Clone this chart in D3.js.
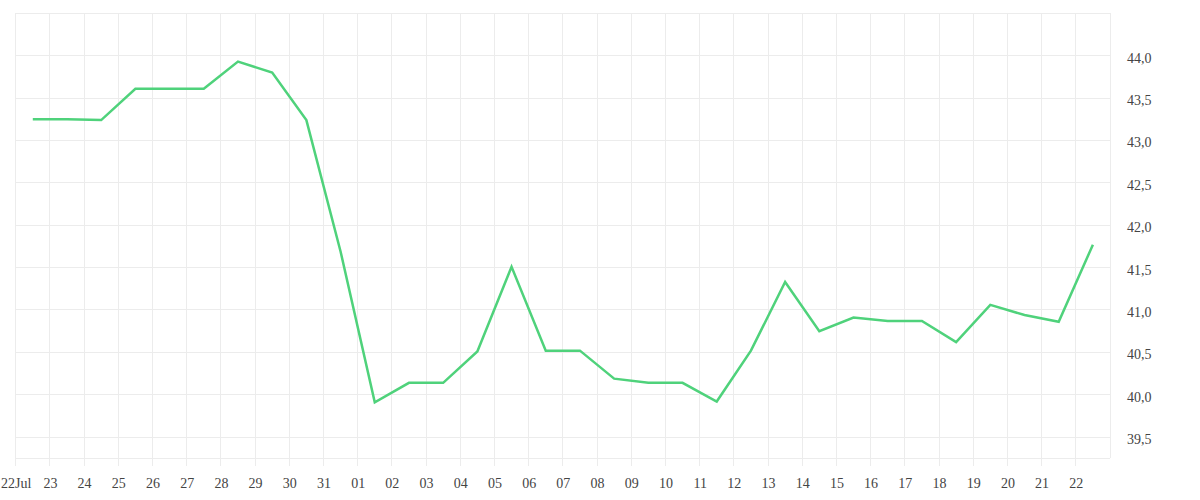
<!DOCTYPE html>
<html><head><meta charset="utf-8">
<script src="https://cdn.jsdelivr.net/npm/d3@7"></script>
<style>body{margin:0;background:#fff;}svg{display:block;}</style>
</head><body>
<svg id="c" width="1200" height="500"></svg>
<script>
const startDate = "2023-07-22";
const values = [43.25,43.25,43.24,43.61,43.61,43.61,43.93,43.80,43.24,41.69,39.91,40.14,40.14,40.51,41.51,40.52,40.52,40.19,40.14,40.14,39.92,40.52,41.33,40.75,40.91,40.87,40.87,40.62,41.06,40.94,40.86,41.77];
const yTicks = [39.5,40.0,40.5,41.0,41.5,42.0,42.5,43.0,43.5,44.0];
const yDomain = [39.25, 44.5];

const parse = d3.timeParse("%Y-%m-%d");
const d0 = parse(startDate);
const data = values.map((v,i)=>({date:d3.timeHour.offset(d3.timeDay.offset(d0,i),12), v}));

const svg = d3.select("#c");
const L=15.7, R=1110, T=13.3, B=458.3;
const x = d3.scaleTime().domain([d0, d3.timeDay.offset(d0, values.length)]).range([L,R]);
const y = d3.scaleLinear().domain(yDomain).range([B,T]);
const grid = "#ececec";

const days = d3.timeDay.range(d0, d3.timeDay.offset(d0, values.length));
svg.append("g").selectAll("line").data(days).join("line")
  .attr("x1",d=>x(d)).attr("x2",d=>x(d)).attr("y1",T).attr("y2",B+8)
  .attr("stroke",grid).attr("stroke-width",1).attr("shape-rendering","crispEdges");
svg.append("line").attr("x1",R).attr("x2",R).attr("y1",T).attr("y2",B)
  .attr("stroke",grid).attr("shape-rendering","crispEdges");
const hLines = yTicks.concat([44.5, yDomain[0]]);
svg.append("g").selectAll("line").data(hLines).join("line")
  .attr("x1",L).attr("x2",R).attr("y1",d=>y(d)).attr("y2",d=>y(d))
  .attr("stroke",grid).attr("stroke-width",1).attr("shape-rendering","crispEdges");

const fmtNum = v => d3.format(".1f")(v).replace(".", ",");
const yAxis = d3.axisRight(y).tickValues(yTicks).tickFormat(fmtNum).tickSize(0).tickPadding(0);
const ga = svg.append("g").attr("transform",`translate(${1127},2)`).call(yAxis);
ga.select(".domain").remove();
ga.selectAll("text").attr("font-family","Liberation Serif").attr("font-size",14).attr("fill","#444");

const fmtDay = d => (d.getTime()===d0.getTime()) ? d3.timeFormat("%d%b")(d) : d3.timeFormat("%d")(d);
const xAxis = d3.axisBottom(x).tickValues(days).tickFormat(fmtDay).tickSize(0).tickPadding(0);
const gx = svg.append("g").attr("transform",`translate(0,${478})`).call(xAxis);
gx.select(".domain").remove();
gx.selectAll("text").attr("font-family","Liberation Serif").attr("font-size",14).attr("fill","#444");

const line = d3.line().x(d=>x(d.date)).y(d=>y(d.v));
svg.append("path").datum(data).attr("d",line)
  .attr("fill","none").attr("stroke","#4fd27b").attr("stroke-width",2.5).attr("stroke-linejoin","miter");
</script>
</body></html>
